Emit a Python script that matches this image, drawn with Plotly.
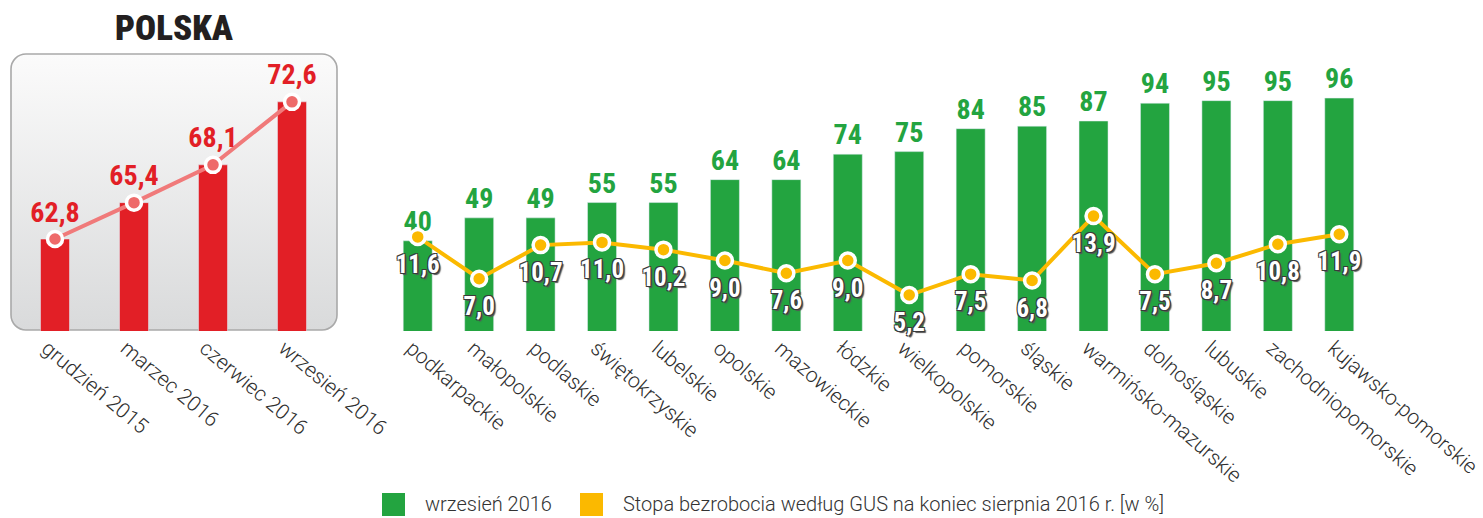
import base64
import plotly.graph_objects as go

# ---------------- data ----------------
polska_periods = ["grudzień 2015", "marzec 2016", "czerwiec 2016", "wrzesień 2016"]
polska_values = [62.8, 65.4, 68.1, 72.6]

regions = ["podkarpackie", "małopolskie", "podlaskie", "świętokrzyskie", "lubelskie",
           "opolskie", "mazowieckie", "łódzkie", "wielkopolskie", "pomorskie", "śląskie",
           "warmińsko-mazurskie", "dolnośląskie", "lubuskie", "zachodniopomorskie",
           "kujawsko-pomorskie"]
sep2016 = [40, 49, 49, 55, 55, 64, 64, 74, 75, 84, 85, 87, 94, 95, 95, 96]
unemployment = [11.6, 7.0, 10.7, 11.0, 10.2, 9.0, 7.6, 9.0, 5.2, 7.5, 6.8, 13.9, 7.5, 8.7, 10.8, 11.9]

series_bar_name = "wrzesień 2016"
series_line_name = "Stopa bezrobocia według GUS na koniec sierpnia 2016 r. [w %]"
title_text = "POLSKA"

# ---------------- helpers ----------------
W, H = 1483, 518
def fx(p):
    return p / W
def fy(p):
    return 1 - p / H

def fmt(v):
    return f"{v:.1f}".replace(".", ",")

NUM_FONT = "Roboto Condensed, DejaVu Sans Condensed, Roboto, sans-serif"
TICK_FONT = dict(family="Roboto", size=21, color="#2e2e2e", weight=300)

RED = "#e21f26"
GREEN = "#23a440"
YELLOW = "#fbb900"

fig = go.Figure()

# Left panel: red bars + line
fig.add_trace(go.Bar(
    x=polska_periods, y=polska_values, marker_color=RED, width=0.367,
    xaxis="x", yaxis="y", showlegend=False, hoverinfo="x+y"))
fig.add_trace(go.Scatter(
    x=polska_periods, y=polska_values, mode="lines+markers+text",
    line=dict(color="#f07a7a", width=4),
    marker=dict(size=15, color="#ee6a6a", line=dict(color="white", width=3.5)),
    text=[fmt(v) for v in polska_values], textposition="top center",
    textfont=dict(family=NUM_FONT, size=28, color=RED, weight="bold"),
    cliponaxis=False, xaxis="x", yaxis="y", showlegend=False))

# Right panel: green bars
fig.add_trace(go.Bar(
    x=regions, y=sep2016, marker_color=GREEN, width=0.472,
    text=[str(v) for v in sep2016], textposition="outside", constraintext="none",
    textfont=dict(family=NUM_FONT, size=28, color=GREEN, weight="bold"),
    cliponaxis=False, xaxis="x2", yaxis="y2", name=series_bar_name, showlegend=False))

# Right panel: unemployment line
fig.add_trace(go.Scatter(
    x=regions, y=unemployment, mode="lines+markers",
    line=dict(color=YELLOW, width=4),
    marker=dict(size=15, color=YELLOW, line=dict(color="white", width=3.5)),
    cliponaxis=False, xaxis="x2", yaxis="y3", name=series_line_name, showlegend=False))
# labels of the unemployment line (transparent larger markers push text further below)
fig.add_trace(go.Scatter(
    x=regions, y=unemployment, mode="markers+text",
    marker=dict(size=26, color="rgba(0,0,0,0)"),
    text=[fmt(v) for v in unemployment], textposition="bottom center",
    textfont=dict(family=NUM_FONT, size=25, color="white", weight="bold",
                  shadow="1px 1px 0 #3a3a3a, -1px -1px 0 #3a3a3a, 1px -1px 0 #3a3a3a, -1px 1px 0 #3a3a3a, 2px 2px 1px #555"),
    cliponaxis=False, xaxis="x2", yaxis="y3", showlegend=False, hoverinfo="skip"))

# Gradient rounded box behind left panel
bx0, bx1, by0, by1 = 10, 338, 53, 331
bw, bh = bx1 - bx0, by1 - by0
svg = (f"<svg xmlns='http://www.w3.org/2000/svg' width='{bw}' height='{bh}' viewBox='0 0 {bw} {bh}'>"
       "<defs><linearGradient id='g' x1='0' y1='0' x2='0' y2='1'>"
       "<stop offset='0' stop-color='#fbfbfb'/><stop offset='1' stop-color='#d9dadb'/>"
       "</linearGradient></defs>"
       f"<rect x='1' y='1' width='{bw-2}' height='{bh-2}' rx='15' ry='15' fill='url(#g)' stroke='#a9a9a9' stroke-width='1.6'/>"
       "</svg>")
src = "data:image/svg+xml;base64," + base64.b64encode(svg.encode()).decode()

fig.update_layout(
    width=W, height=H, margin=dict(l=0, r=0, t=0, b=0),
    paper_bgcolor="white", plot_bgcolor="rgba(0,0,0,0)",
    showlegend=False,
    images=[dict(source=src, xref="paper", yref="paper", x=fx(bx0), y=fy(by0),
                 sizex=bw / W, sizey=bh / H, sizing="stretch", xanchor="left",
                 yanchor="top", layer="below")],
    xaxis=dict(domain=[fx(15.5), fx(331.5)], anchor="y", range=[-0.5, 3.5],
               showgrid=False, zeroline=False, showline=False, ticks="", tickangle=40,
               tickfont=TICK_FONT, automargin=False, fixedrange=True, ticklabelshift=-8),
    yaxis=dict(domain=[fy(331), fy(53)], anchor="x", range=[56.23, 76.09], visible=False,
               fixedrange=True),
    xaxis2=dict(domain=[fx(387), fx(1370)], anchor="y2", range=[-0.5, 15.5],
                showgrid=False, zeroline=False, showline=False, ticks="", tickangle=41,
                tickfont=TICK_FONT, automargin=False, fixedrange=True, ticklabelshift=-6),
    yaxis2=dict(domain=[fy(331), fy(53)], anchor="x2", range=[4.6, 113.7], visible=False,
                fixedrange=True),
    yaxis3=dict(overlaying="y2", anchor="x2", range=[1.24, 31.86], visible=False,
                fixedrange=True),
)

# Title
fig.add_annotation(text=title_text, xref="paper", yref="paper", x=fx(174), y=fy(28),
                   showarrow=False, xanchor="center", yanchor="middle",
                   font=dict(family=NUM_FONT, size=35, color="#231f20", weight=900))

# Custom legend
LEG_FONT = dict(family="Roboto", size=20, color="#333333", weight=300)
for x0, color, name in [(382, GREEN, series_bar_name), (580, YELLOW, series_line_name)]:
    fig.add_shape(type="rect", xref="paper", yref="paper",
                  x0=fx(x0), x1=fx(x0 + 23), y0=fy(516), y1=fy(493),
                  fillcolor=color, line=dict(width=0))
    fig.add_annotation(text=name, xref="paper", yref="paper", x=fx(x0 + 41), y=fy(504),
                       showarrow=False, xanchor="left", yanchor="middle", font=LEG_FONT)

fig.write_html("out.html", config={"displayModeBar": False},
               post_script="document.body.style.margin='0px';")
